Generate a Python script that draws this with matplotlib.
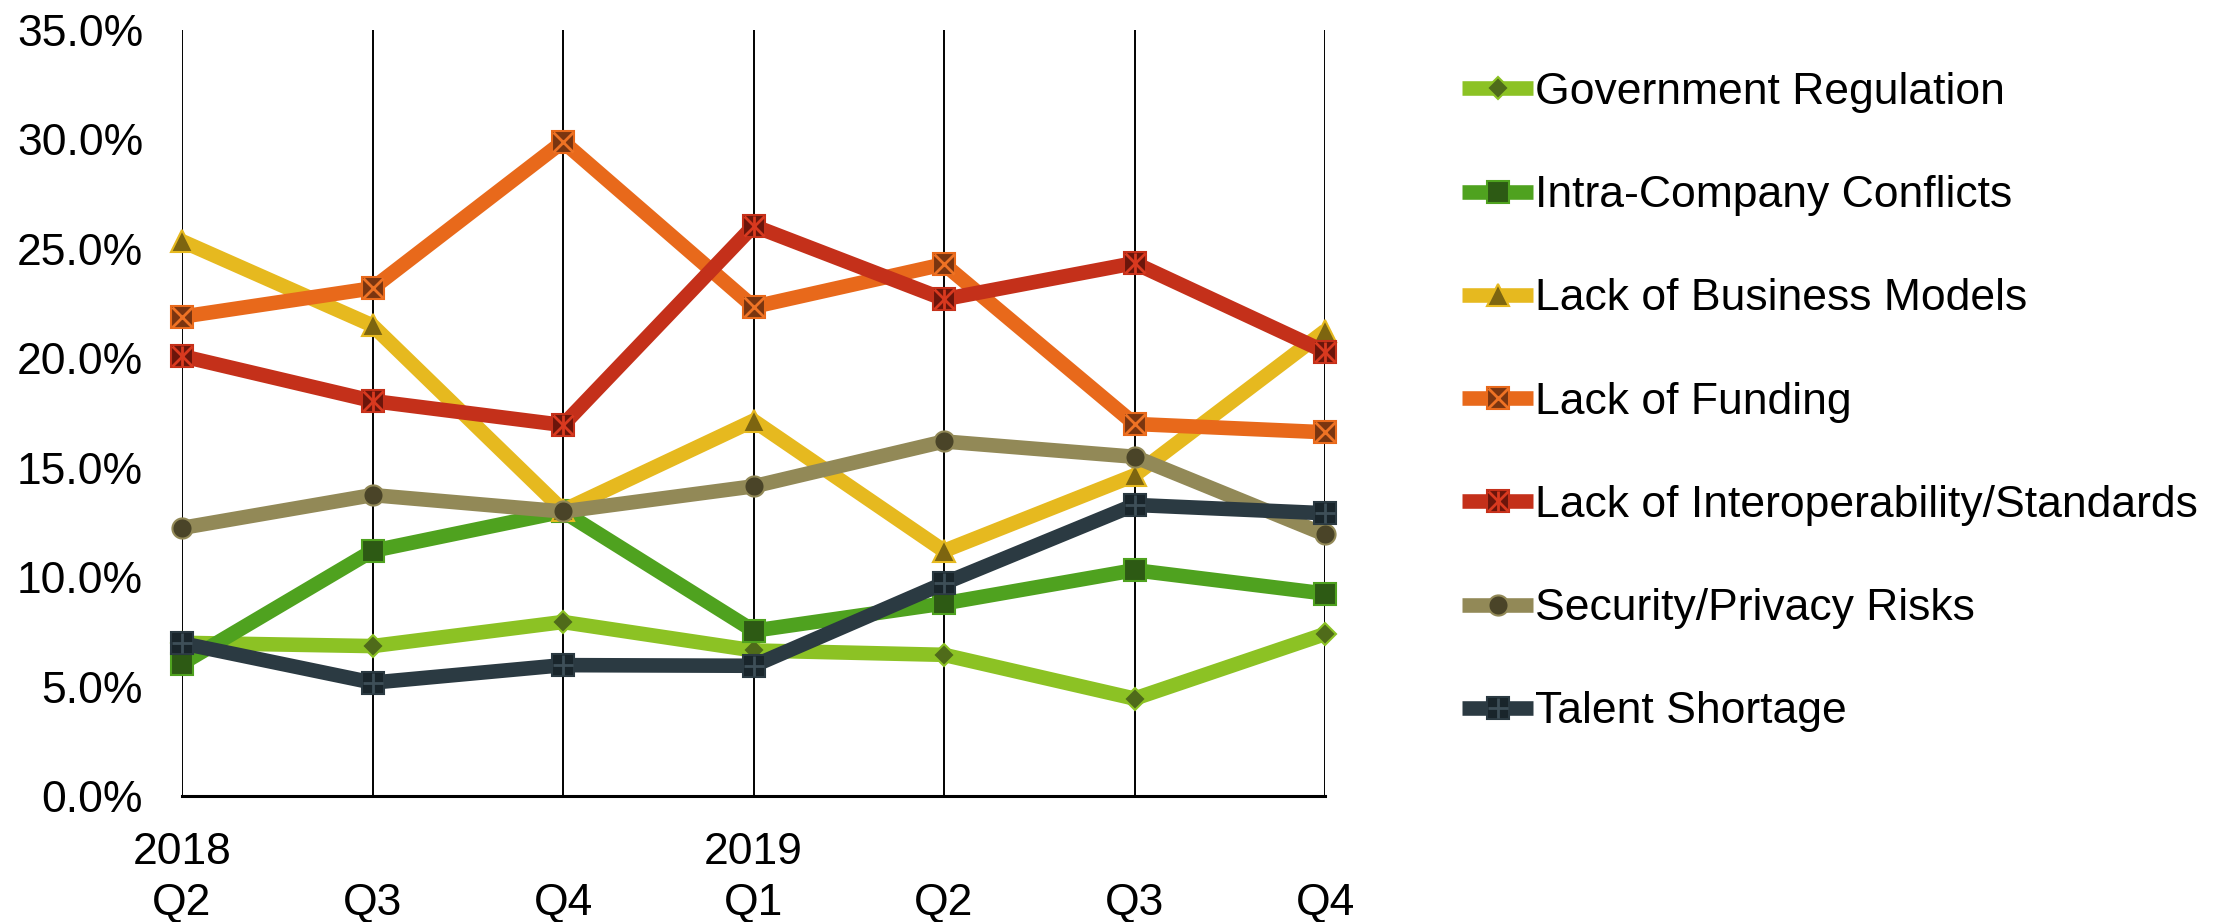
import matplotlib
matplotlib.use("Agg")
import matplotlib.pyplot as plt
from matplotlib.legend_handler import HandlerTuple
from matplotlib.ticker import PercentFormatter

plt.rcParams['font.family'] = ['Liberation Sans', 'DejaVu Sans']

years = ["2018", "", "", "2019", "", "", ""]
quarters = ["Q2", "Q3", "Q4", "Q1", "Q2", "Q3", "Q4"]

gov_regulation = [0.070, 0.0685, 0.0795, 0.0665, 0.0645, 0.0445, 0.074]
intra_company = [0.0605, 0.112, 0.130, 0.0755, 0.088, 0.1032, 0.0925]
business_models = [0.2535, 0.2150, 0.1305, 0.1715, 0.1120, 0.1465, 0.2125]
funding = [0.2190, 0.2320, 0.2990, 0.2235, 0.2430, 0.1700, 0.1662]
interoperability = [0.2010, 0.1805, 0.1695, 0.2605, 0.2270, 0.2435, 0.2030]
security_privacy = [0.1225, 0.1375, 0.1300, 0.1415, 0.1620, 0.1550, 0.1195]
talent_shortage = [0.0698, 0.0518, 0.0598, 0.0595, 0.0972, 0.1330, 0.1292]

labels = ["Government Regulation", "Intra-Company Conflicts",
          "Lack of Business Models", "Lack of Funding",
          "Lack of Interoperability/Standards", "Security/Privacy Risks",
          "Talent Shortage"]
values = [gov_regulation, intra_company, business_models, funding,
          interoperability, security_privacy, talent_shortage]

# line colour, base marker, marker size, marker face, overlay glyphs (marker, colour, width)
styles = [
    ("#8CC224", "D", 11.5, "#4F6B1A", []),
    ("#4FA21F", "s", 16, "#2D5A14", []),
    ("#E6B91F", "^", 16, "#7D6510", []),
    ("#E8691B", "s", 16, "#7A3510", [("x", "#EE7224", 2.0)]),
    ("#C4301A", "s", 16, "#6B150B", [("x", "#D9391F", 2.0), ("|", "#D9391F", 2.0)]),
    ("#928957", "o", 14.5, "#4A4428", []),
    ("#2B3A42", "s", 16, "#19252B", [("+", "#3E4F58", 2.0)]),
]

fig = plt.figure(figsize=(22.15, 9.22), dpi=100)
ax = fig.add_axes([182 / 2215, 1 - 796 / 922, (1325 - 182) / 2215, (796 - 30) / 922])

x = list(range(len(quarters)))
handles = []
for vals, (lc, mk, ms, mf, extras) in zip(values, styles):
    parts = []
    ln, = ax.plot(x, vals, color=lc, lw=10.5, marker=mk, ms=ms,
                  mfc=mf, mec=lc, mew=1.5, solid_joinstyle="miter",
                  solid_capstyle="butt", zorder=3, clip_on=False)
    parts.append(ln)
    for emk, ec, ew in extras:
        ov, = ax.plot(x, vals, ls="none", marker=emk, ms=ms - 1, mec=ec,
                      mew=ew, zorder=3, clip_on=False)
        parts.append(ov)
    handles.append(tuple(parts))

ax.set_xlim(0, len(quarters) - 1)
ax.set_ylim(0, 0.35)
ax.set_yticks([i * 0.05 for i in range(8)])
ax.yaxis.set_major_formatter(PercentFormatter(1.0, decimals=1))
ax.set_xticks(x)
ax.set_xticklabels([f"{y if y else ' '}\n{q}" for y, q in zip(years, quarters)],
                   linespacing=1.30)
ax.tick_params(axis="both", length=0, labelsize=32, colors="black")
ax.tick_params(axis="y", pad=28)
ax.tick_params(axis="x", pad=26)

for s in ("top", "right", "left"):
    ax.spines[s].set_visible(False)
ax.spines["bottom"].set_linewidth(2.2)
ax.spines["bottom"].set_color("black")
ax.spines["bottom"].set_zorder(4)

ax.grid(axis="x", color="black", lw=1.4, zorder=1)
ax.grid(axis="y", visible=False)
ax.set_axisbelow(True)

fig.legend(handles, labels, handler_map={tuple: HandlerTuple(ndivide=1)},
           loc="upper left", bbox_to_anchor=(1462 / 2215, 1 - 72 / 922),
           frameon=False, fontsize=32, borderpad=0, borderaxespad=0,
           handlelength=1.6, handletextpad=0.05, labelspacing=1.4,
           numpoints=1)

fig.savefig("out.png", dpi=100)
